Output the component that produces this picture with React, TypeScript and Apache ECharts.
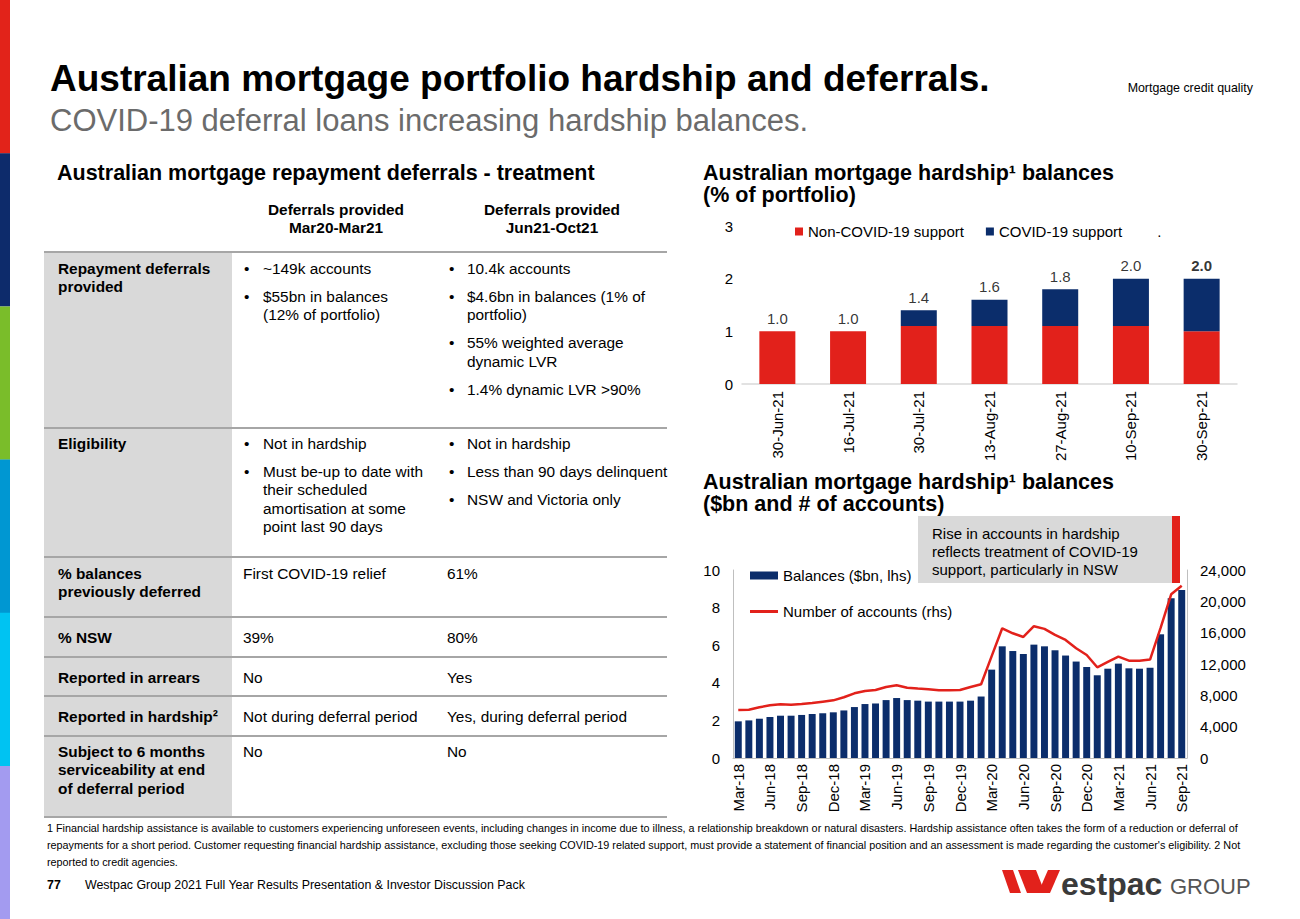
import React, { useEffect, useRef } from 'react';
import * as echarts from 'echarts';

const FONT = '"Liberation Sans", Arial, Helvetica, sans-serif';
const RED = '#e2211b';
const NAVY = '#0b2d6b';

// ---- Top-right chart data (% of portfolio) ----
const topCategories = ['30-Jun-21', '16-Jul-21', '30-Jul-21', '13-Aug-21', '27-Aug-21', '10-Sep-21', '30-Sep-21'];
const nonCovidSupport = [1.0, 1.0, 1.1, 1.1, 1.1, 1.1, 1.0];
const covidSupport = [0, 0, 0.3, 0.5, 0.7, 0.9, 1.0];
const hardshipTotals = [1.0, 1.0, 1.4, 1.6, 1.8, 2.0, 2.0];

// ---- Bottom-right chart data ($bn and # of accounts) ----
const monthLabels = [
  'Mar-18', 'Apr-18', 'May-18', 'Jun-18', 'Jul-18', 'Aug-18', 'Sep-18', 'Oct-18', 'Nov-18', 'Dec-18',
  'Jan-19', 'Feb-19', 'Mar-19', 'Apr-19', 'May-19', 'Jun-19', 'Jul-19', 'Aug-19', 'Sep-19', 'Oct-19', 'Nov-19', 'Dec-19',
  'Jan-20', 'Feb-20', 'Mar-20', 'Apr-20', 'May-20', 'Jun-20', 'Jul-20', 'Aug-20', 'Sep-20', 'Oct-20', 'Nov-20', 'Dec-20',
  'Jan-21', 'Feb-21', 'Mar-21', 'Apr-21', 'May-21', 'Jun-21', 'Jul-21', 'Aug-21', 'Sep-21',
];
const balancesBn = [
  1.95, 2.0, 2.09, 2.18, 2.25, 2.25, 2.29, 2.34, 2.38, 2.43,
  2.53, 2.71, 2.87, 2.9, 3.08, 3.19, 3.08, 3.05, 3.0, 3.0, 3.0, 3.0,
  3.05, 3.27, 4.7, 5.94, 5.69, 5.53, 6.03, 5.94, 5.73, 5.45, 5.13, 4.84,
  4.4, 4.75, 5.02, 4.77, 4.75, 4.8, 6.58, 8.5, 8.93,
];
const accountsCount = [
  6130, 6170, 6470, 6730, 6860, 6810, 6900, 7020, 7190, 7360,
  7750, 8260, 8560, 8680, 9070, 9280, 8980, 8860, 8770, 8640, 8640, 8680,
  9070, 9410, 13000, 16560, 15920, 15450, 16820, 16480, 15710, 15070, 14010, 13150,
  11580, 12260, 12940, 12430, 12430, 12560, 16600, 20900, 22000,
];

// ---- Table text ----
const colHeaders = [
  ['Deferrals provided', 'Mar20-Mar21'],
  ['Deferrals provided', 'Jun21-Oct21'],
];
const rowLabels = [
  ['Repayment deferrals', 'provided'],
  ['Eligibility'],
  ['% balances', 'previously deferred'],
  ['% NSW'],
  ['Reported in arrears'],
  ['Reported in hardship²'],
  ['Subject to 6 months', 'serviceability at end', 'of deferral period'],
];
const col1Cells: any[] = [
  { bullets: [['~149k accounts'], ['$55bn in balances', '(12% of portfolio)']] },
  { bullets: [['Not in hardship'], ['Must be-up to date with', 'their scheduled', 'amortisation at some', 'point last 90 days']] },
  { plain: 'First COVID-19 relief' },
  { plain: '39%' },
  { plain: 'No' },
  { plain: 'Not during deferral period' },
  { plain: 'No' },
];
const col2Cells: any[] = [
  { bullets: [['10.4k accounts'], ['$4.6bn in balances (1% of', 'portfolio)'], ['55% weighted average', 'dynamic LVR'], ['1.4% dynamic LVR >90%']] },
  { bullets: [['Not in hardship'], ['Less than 90 days delinquent'], ['NSW and Victoria only']] },
  { plain: '61%' },
  { plain: '80%' },
  { plain: 'Yes' },
  { plain: 'Yes, during deferral period' },
  { plain: 'No' },
];
const footnoteLines = [
  '1 Financial hardship assistance is available to customers experiencing unforeseen events, including changes in income due to illness, a relationship breakdown or natural disasters. Hardship assistance often takes the form of a reduction or deferral of',
  "repayments for a short period. Customer requesting financial hardship assistance, excluding those seeking COVID-19 related support, must provide a statement of financial position and an assessment is made regarding the customer's eligibility. 2 Not",
  'reported to credit agencies.',
];
const annotationLines = ['Rise in accounts in hardship', 'reflects treatment of COVID-19', 'support, particularly in NSW'];
const sideBarColors = ['#e2231a', '#0d2b6b', '#7abd2a', '#0097d2', '#00c3f2', '#a39bf0'];

function buildGraphics() {
  const els: any[] = [];
  // y = centre of the first line; lines stacked with lineHeight lh
  const txt = (x: number, y: number, lines: string | string[], size: number, o: any = {}) => {
    const arr = Array.isArray(lines) ? lines : [lines];
    const lh = o.lh || Math.round(size * 1.2);
    els.push({
      type: 'text', x, y: y - lh / 2, silent: true, z: 10,
      style: {
        text: arr.join('\n'), fontSize: size, fontFamily: FONT, fontWeight: o.bold ? 'bold' : 'normal',
        fill: o.color || '#000', lineHeight: lh,
        textAlign: o.align || 'left', align: o.align || 'left',
        textVerticalAlign: 'top', verticalAlign: 'top',
      },
    });
  };
  const rect = (x: number, y: number, w: number, h: number, fill: string, z = 1) => {
    els.push({ type: 'rect', x, y, shape: { x: 0, y: 0, width: w, height: h }, style: { fill }, silent: true, z });
  };

  // side colour bar
  sideBarColors.forEach((c, i) => rect(0, i * 153.2, 10, 153.4, c));

  // titles
  txt(50, 78, 'Australian mortgage portfolio hardship and deferrals.', 37, { bold: true });
  txt(50, 120, 'COVID-19 deferral loans increasing hardship balances.', 31, { color: '#6b6b6b' });
  txt(1253, 88, 'Mortgage credit quality', 12.4, { align: 'right' });

  // section titles
  txt(57, 173, 'Australian mortgage repayment deferrals - treatment', 21.5, { bold: true });
  txt(703, 173, ['Australian mortgage hardship¹ balances', '(% of portfolio)'], 21.5, { bold: true, lh: 22 });
  txt(703, 482, ['Australian mortgage hardship¹ balances', '($bn and # of accounts)'], 21.5, { bold: true, lh: 22 });

  // table
  const FS = 15.4;
  const LH = 18.5;
  rect(44, 253, 188, 565, '#d9d9d9');
  [252, 428, 557, 617, 657, 696, 736, 817].forEach((y) => rect(44, y - 1, 623, 2, '#a6a6a6', 2));
  const headerX = [336, 552];
  colHeaders.forEach((lines, i) => txt(headerX[i], 209, lines, FS, { bold: true, align: 'center', lh: 18 }));
  const rowFirstY = [268, 443, 573, 637, 677, 716, 751];
  rowLabels.forEach((lines, r) => txt(58, rowFirstY[r], lines, FS, { bold: true, lh: LH }));
  const drawCell = (cell: any, y0: number, bx: number, tx: number, px: number) => {
    if (cell.plain) { txt(px, y0, cell.plain, FS, { lh: LH }); return; }
    let y = y0;
    cell.bullets.forEach((para: string[]) => {
      txt(bx, y, '•', FS, { lh: LH });
      txt(tx, y, para, FS, { lh: LH });
      y += (para.length - 1) * LH + 28;
    });
  };
  col1Cells.forEach((c, r) => drawCell(c, rowFirstY[r], 244, 263, 243));
  col2Cells.forEach((c, r) => drawCell(c, rowFirstY[r], 449, 467, 447));

  // annotation box
  rect(918, 516, 254, 67, '#d9d9d9', 3);
  rect(1172, 516, 8, 67, RED, 3);
  txt(932, 533, annotationLines, 15, { lh: 18 });

  // footnotes & footer
  txt(47, 828, footnoteLines, 10.8, { lh: 17 });
  txt(47, 885, '77', 12.4, { bold: true });
  txt(85, 885, 'Westpac Group 2021 Full Year Results Presentation & Investor Discussion Pack', 12.4);

  // logo
  const poly = (pts: number[][]) => els.push({ type: 'polygon', shape: { points: pts }, style: { fill: RED }, silent: true });
  poly([[1002, 870], [1013, 870], [1021, 893], [1010, 893]]);
  poly([[1018, 870], [1036, 870], [1045, 893], [1027, 893]]);
  poly([[1048, 870], [1060, 870], [1050, 893], [1038, 893]]);
  txt(1061, 884, 'estpac', 32, { bold: true, color: '#3a3a3a' });
  txt(1170, 886, 'GROUP', 22, { color: '#555555' });
  return els;
}

export default function App() {
  const ref = useRef<HTMLDivElement>(null);
  useEffect(() => {
    document.body.style.margin = '0';
    if (!ref.current) return;
    const chart = echarts.init(ref.current, undefined, { renderer: 'svg' });
    const axisText = { fontSize: 15, color: '#000', fontFamily: FONT };
    const option: any = {
      animation: false,
      backgroundColor: '#fff',
      textStyle: { fontFamily: FONT },
      grid: [
        { left: 742, top: 226, width: 495, height: 158 },
        { left: 733, top: 570, width: 454, height: 188 },
      ],
      xAxis: [
        {
          type: 'category', gridIndex: 0, data: topCategories,
          axisLine: { lineStyle: { color: '#d9d9d9', width: 1.5 } }, axisTick: { show: false },
          axisLabel: { ...axisText, rotate: 90, margin: 7, interval: 0 },
        },
        {
          type: 'category', gridIndex: 1, data: monthLabels,
          axisLine: { lineStyle: { color: '#bfbfbf' } }, axisTick: { show: false },
          axisLabel: { ...axisText, rotate: 90, margin: 6, interval: 2 },
        },
      ],
      yAxis: [
        {
          type: 'value', gridIndex: 0, min: 0, max: 3, interval: 1, splitLine: { show: false },
          axisLine: { show: false }, axisTick: { show: false }, axisLabel: { ...axisText, margin: 9 },
        },
        {
          type: 'value', gridIndex: 1, position: 'left', min: 0, max: 10, interval: 2, splitLine: { show: false },
          axisLine: { show: true, lineStyle: { color: '#bfbfbf' } }, axisTick: { show: false },
          axisLabel: { ...axisText, margin: 13 },
        },
        {
          type: 'value', gridIndex: 1, position: 'right', min: 0, max: 24000, interval: 4000, splitLine: { show: false },
          axisLine: { show: true, lineStyle: { color: '#bfbfbf' } }, axisTick: { show: false },
          axisLabel: { ...axisText, margin: 13, formatter: (v: number) => v.toLocaleString('en-US') },
        },
      ],
      legend: [
        {
          left: 790, top: 219, itemWidth: 8, itemHeight: 8, itemGap: 22, icon: 'rect',
          textStyle: { fontSize: 15, color: '#000', fontFamily: FONT },
          data: [{ name: 'Non-COVID-19 support' }, { name: 'COVID-19 support' }, { name: '.', icon: 'none' }],
        },
        {
          left: 745, top: 563, itemWidth: 28, itemHeight: 8, icon: 'rect',
          textStyle: { fontSize: 15, color: '#000', fontFamily: FONT },
          data: ['Balances ($bn, lhs)'],
        },
        {
          left: 745, top: 599, itemWidth: 28, itemHeight: 3, icon: 'rect',
          textStyle: { fontSize: 15, color: '#000', fontFamily: FONT },
          data: ['Number of accounts (rhs)'],
        },
      ],
      series: [
        {
          name: 'Non-COVID-19 support', type: 'bar', stack: 'hs', xAxisIndex: 0, yAxisIndex: 0,
          data: nonCovidSupport, barWidth: 36, itemStyle: { color: RED },
        },
        {
          name: 'COVID-19 support', type: 'bar', stack: 'hs', xAxisIndex: 0, yAxisIndex: 0,
          data: covidSupport, barWidth: 36, itemStyle: { color: NAVY },
        },
        {
          name: '.', type: 'scatter', xAxisIndex: 0, yAxisIndex: 0, symbolSize: 1,
          itemStyle: { color: 'rgba(0,0,0,0)' },
          data: hardshipTotals.map((v, i) => (i === hardshipTotals.length - 1 ? { value: v, label: { fontWeight: 'bold' } } : v)),
          label: {
            show: true, position: 'top', distance: 5, fontSize: 15, color: '#000', fontFamily: FONT,
            formatter: (p: any) => Number(p.value).toFixed(1),
          },
        },
        {
          name: 'Balances ($bn, lhs)', type: 'bar', xAxisIndex: 1, yAxisIndex: 1,
          data: balancesBn, barWidth: '66%', itemStyle: { color: NAVY },
        },
        {
          name: 'Number of accounts (rhs)', type: 'line', xAxisIndex: 1, yAxisIndex: 2,
          data: accountsCount, symbol: 'none', lineStyle: { color: RED, width: 2.5 }, itemStyle: { color: RED },
        },
      ],
      graphic: { elements: buildGraphics() },
    };
    chart.setOption(option);
    return () => chart.dispose();
  }, []);
  return <div ref={ref} style={{ width: 1300, height: 919, background: '#fff' }} />;
}
